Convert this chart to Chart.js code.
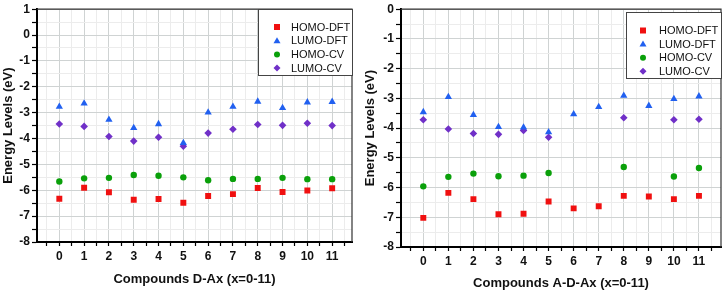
<!DOCTYPE html>
<html lang="en">
<head>
    <meta charset="UTF-8">
    <title>Energy Levels</title>
    <script src="https://cdn.jsdelivr.net/npm/chart.js"></script>
    <style>
        body {
            margin: 0;
            padding: 0;
            background-color: #fff;
        }
        .wrap {
            position: relative;
            width: 724px;
            height: 291px;
        }
        .panel {
            position: absolute;
            top: 0;
            width: 362px;
            height: 291px;
        }
    </style>
</head>
<body>
    <div class="wrap">
        <div class="panel" style="left:0"><canvas id="leftChart" width="362" height="291"></canvas></div>
        <div class="panel" style="left:362px"><canvas id="rightChart" width="362" height="291"></canvas></div>
    </div>

    <script>
        const seriesNames = ['HOMO-DFT', 'LUMO-DFT', 'HOMO-CV', 'LUMO-CV'];
        const compounds = [0, 1, 2, 3, 4, 5, 6, 7, 8, 9, 10, 11];

        // D-Ax compounds
        const dHomoDft = [-6.33, -5.90, -6.08, -6.37, -6.34, -6.48, -6.22, -6.15, -5.91, -6.07, -6.01, -5.92];
        const dLumoDft = [-2.77, -2.64, -3.27, -3.59, -3.44, -4.17, -2.99, -2.77, -2.57, -2.82, -2.60, -2.58];
        const dHomoCv = [-5.66, -5.54, -5.52, -5.41, -5.44, -5.50, -5.61, -5.56, -5.56, -5.52, -5.57, -5.57];
        const dLumoCv = [-3.44, -3.53, -3.92, -4.10, -3.95, -4.30, -3.79, -3.64, -3.46, -3.49, -3.41, -3.50];

        // A-D-Ax compounds (null = no measurement)
        const aHomoDft = [-7.02, -6.18, -6.39, -6.90, -6.88, -6.47, -6.70, -6.63, -6.28, -6.30, -6.39, -6.28];
        const aLumoDft = [-3.46, -2.95, -3.56, -3.96, -3.98, -4.14, -3.53, -3.29, -2.91, -3.25, -3.02, -2.93];
        const aHomoCv = [-5.96, -5.64, -5.53, -5.62, -5.60, -5.51, null, null, -5.31, null, -5.63, -5.34];
        const aLumoCv = [-3.72, -4.03, -4.18, -4.21, -4.08, -4.31, null, null, -3.65, null, -3.72, -3.70];

        const leftYTicks = [1, 0, -1, -2, -3, -4, -5, -6, -7, -8];
        const rightYTicks = [0, -1, -2, -3, -4, -5, -6, -7, -8];

        const colors = ['#f01010', '#2160f0', '#0aa00a', '#7030c8'];
        const shapes = ['rect', 'triangle', 'circle', 'rectRot'];
        const radii = [4.2, 4.2, 3.2, 3.8];

        const FONT = "'Liberation Sans', Arial, sans-serif";

        function toPoints(values) {
            return compounds.map((c, i) => ({ x: c, y: values[i] })).filter(p => p.y !== null);
        }

        function makeDatasets(list) {
            return list.map((values, i) => ({
                label: seriesNames[i],
                data: toPoints(values),
                backgroundColor: colors[i],
                borderColor: colors[i],
                borderWidth: 0,
                pointStyle: shapes[i],
                pointRadius: radii[i],
                pointHoverRadius: radii[i],
                showLine: false
            }));
        }

        // frame on top / right of the plot
        const framePlugin = {
            id: 'frame',
            afterDraw(chart) {
                const a = chart.chartArea;
                const ctx = chart.ctx;
                ctx.save();
                ctx.strokeStyle = '#333';
                ctx.lineWidth = 1.2;
                ctx.beginPath();
                ctx.moveTo(a.left, a.top);
                ctx.lineTo(a.right, a.top);
                ctx.lineTo(a.right, a.bottom);
                ctx.stroke();
                ctx.restore();
            }
        };

        // boxed legend inside the plot
        const boxLegend = {
            id: 'boxLegend',
            afterDraw(chart, args, opts) {
                const ctx = chart.ctx;
                const a = chart.chartArea;
                ctx.save();
                ctx.fillStyle = '#fff';
                ctx.fillRect(opts.x1, opts.y1, a.right - opts.x1, opts.y2 - opts.y1);
                ctx.strokeStyle = '#444';
                ctx.lineWidth = 1;
                ctx.strokeRect(opts.x1 + 0.5, opts.y1 + 0.5, a.right - opts.x1, opts.y2 - opts.y1);
                ctx.font = '11px ' + FONT;
                ctx.textBaseline = 'middle';
                chart.data.datasets.forEach((ds, i) => {
                    const y = opts.y0 + i * opts.step;
                    const x = opts.mx;
                    ctx.fillStyle = ds.backgroundColor;
                    ctx.beginPath();
                    if (i === 0) {
                        ctx.rect(x - 3, y - 3, 6, 6);
                    } else if (i === 1) {
                        ctx.moveTo(x, y - 3.5);
                        ctx.lineTo(x + 3.5, y + 2.5);
                        ctx.lineTo(x - 3.5, y + 2.5);
                        ctx.closePath();
                    } else if (i === 2) {
                        ctx.arc(x, y, 3, 0, Math.PI * 2);
                    } else {
                        ctx.moveTo(x, y - 3.5);
                        ctx.lineTo(x + 3.5, y);
                        ctx.lineTo(x, y + 3.5);
                        ctx.lineTo(x - 3.5, y);
                        ctx.closePath();
                    }
                    ctx.fill();
                    ctx.fillStyle = '#111';
                    ctx.fillText(ds.label, opts.tx, y + 0.5);
                });
                ctx.restore();
            }
        };

        function makeChart(id, cfg) {
            const yTicks = cfg.yTicks;
            return new Chart(document.getElementById(id), {
                type: 'scatter',
                data: { datasets: makeDatasets(cfg.series) },
                options: {
                    responsive: false,
                    animation: false,
                    events: [],
                    layout: {
                        autoPadding: false,
                        padding: { top: cfg.top, right: cfg.right, left: 0, bottom: 0 }
                    },
                    plugins: {
                        legend: { display: false },
                        tooltip: { enabled: false },
                        boxLegend: cfg.legend
                    },
                    scales: {
                        x: {
                            type: 'linear',
                            min: cfg.xMin,
                            max: cfg.xMax,
                            afterFit: (s) => { s.height = cfg.xHeight; },
                            border: { color: '#000', width: 2 },
                            grid: {
                                color: (c) => Number.isInteger(c.tick.value) ? '#cfd3d3' : '#ececec',
                                tickColor: '#000',
                                tickLength: 4,
                                tickWidth: 1.2
                            },
                            ticks: {
                                stepSize: 0.5,
                                includeBounds: false,
                                autoSkip: false,
                                maxRotation: 0,
                                padding: 3,
                                color: '#111',
                                font: { family: FONT, size: 12, weight: 'bold' },
                                callback: (v) => (Number.isInteger(v) && compounds.includes(v)) ? String(v) : ''
                            },
                            title: {
                                display: true,
                                text: cfg.xTitle,
                                color: '#111',
                                font: { family: FONT, size: 13, weight: 'bold' },
                                padding: { top: 0, bottom: cfg.xTitlePad }
                            }
                        },
                        y: {
                            min: -8,
                            max: yTicks[0],
                            afterFit: (s) => { s.width = cfg.yWidth; },
                            border: { color: '#000', width: 2 },
                            grid: {
                                color: (c) => Number.isInteger(c.tick.value) ? '#cfd3d3' : '#ececec',
                                tickColor: '#000',
                                tickLength: 5,
                                tickWidth: 1.2
                            },
                            ticks: {
                                stepSize: 0.5,
                                autoSkip: false,
                                padding: 2,
                                color: '#111',
                                font: { family: FONT, size: 12, weight: 'bold' },
                                callback: (v) => yTicks.includes(v) ? String(v) : ''
                            },
                            title: {
                                display: true,
                                text: 'Energy Levels (eV)',
                                color: '#111',
                                font: { family: FONT, size: 13, weight: 'bold' },
                                padding: { top: 1, bottom: 0 }
                            }
                        }
                    }
                },
                plugins: [framePlugin, boxLegend]
            });
        }

        makeChart('leftChart', {
            series: [dHomoDft, dLumoDft, dHomoCv, dLumoCv],
            yTicks: leftYTicks,
            xMin: -0.9, xMax: 11.8,
            top: 6, right: 10,
            xHeight: 49, yWidth: 37, xTitlePad: 4,
            xTitle: 'Compounds D-Ax (x=0-11)',
            legend: { x1: 258, y1: 9, y2: 75, y0: 27, step: 13.7, mx: 277, tx: 291 }
        });

        makeChart('rightChart', {
            series: [aHomoDft, aLumoDft, aHomoCv, aLumoCv],
            yTicks: rightYTicks,
            xMin: -0.89, xMax: 11.88,
            top: 9, right: 3,
            xHeight: 44, yWidth: 39, xTitlePad: 0,
            xTitle: 'Compounds A-D-Ax (x=0-11)',
            legend: { x1: 264, y1: 12, y2: 78, y0: 30.5, step: 13.6, mx: 281, tx: 297 }
        });
    </script>
</body>
</html>
